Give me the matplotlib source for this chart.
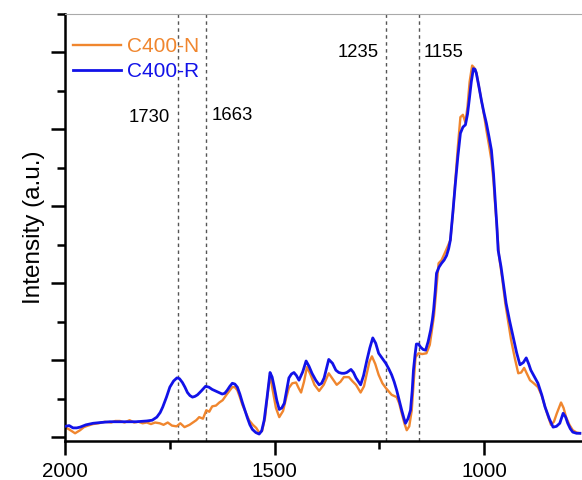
import numpy as np
import matplotlib.pyplot as plt

plt.rcParams["font.family"] = ["Liberation Sans", "DejaVu Sans"]

# C400-N (orange) spectrum
wnN = [2000, 1990, 1976, 1964, 1955, 1945, 1933, 1920, 1905, 1890, 1880, 1869, 1858, 1846,
       1835, 1825, 1815, 1805, 1795, 1785, 1774, 1765, 1755, 1745, 1734, 1725, 1715, 1703,
       1695, 1687, 1680, 1671, 1663, 1656, 1649, 1640, 1632, 1624, 1615, 1608, 1601, 1595,
       1589, 1583, 1577, 1569, 1561, 1552, 1544, 1537, 1530, 1523, 1517, 1511, 1505, 1497,
       1489, 1480, 1472, 1466, 1458, 1449, 1443, 1437, 1430, 1423, 1415, 1405, 1394, 1383,
       1371, 1362, 1352, 1343, 1335, 1323, 1315, 1306, 1295, 1287, 1280, 1274, 1268, 1260,
       1252, 1243, 1235, 1221, 1209, 1203, 1197, 1190, 1185, 1179, 1173, 1168, 1164, 1157,
       1148, 1138, 1130, 1120, 1109, 1102, 1092, 1081, 1075, 1069, 1063, 1057, 1051, 1045,
       1040, 1035, 1029, 1024, 1019, 1013, 1007, 1001, 995, 989, 983, 978, 974, 969, 965,
       957, 950, 943, 936, 927, 919, 912, 905, 898, 891, 882, 872, 863, 855, 848, 841, 834,
       827, 822, 817, 811, 805, 797, 789, 780, 772]
intN = [0.13, 0.10, 0.05, 0.09, 0.13, 0.15, 0.17, 0.18, 0.20, 0.19, 0.21, 0.21, 0.19, 0.22,
        0.19, 0.20, 0.18, 0.19, 0.17, 0.19, 0.18, 0.16, 0.19, 0.15, 0.14, 0.18, 0.13, 0.16,
        0.19, 0.22, 0.26, 0.24, 0.35, 0.33, 0.40, 0.41, 0.45, 0.48, 0.55, 0.60, 0.65, 0.65,
        0.61, 0.52, 0.42, 0.32, 0.22, 0.16, 0.12, 0.06, 0.08, 0.25, 0.55, 0.81, 0.62, 0.38,
        0.26, 0.34, 0.52, 0.64, 0.70, 0.71, 0.64, 0.58, 0.72, 0.91, 0.82, 0.68, 0.60, 0.68,
        0.83, 0.76, 0.68, 0.72, 0.78, 0.78, 0.73, 0.68, 0.58, 0.66, 0.83, 0.98, 1.05, 0.95,
        0.81, 0.70, 0.64, 0.55, 0.52, 0.44, 0.31, 0.17, 0.09, 0.14, 0.35, 0.75, 1.04, 1.09,
        1.08, 1.09, 1.20, 1.58, 2.26, 2.30, 2.42, 2.56, 2.90, 3.34, 3.78, 4.16, 4.19, 4.09,
        4.30, 4.62, 4.83, 4.80, 4.74, 4.56, 4.38, 4.20, 3.99, 3.80, 3.60, 3.32, 3.01, 2.66,
        2.36, 2.05, 1.74, 1.50, 1.26, 1.02, 0.83, 0.84, 0.90, 0.82, 0.74, 0.70, 0.65, 0.54,
        0.39, 0.27, 0.16, 0.20, 0.31, 0.38, 0.45, 0.38, 0.26, 0.16, 0.09, 0.06, 0.05]

# C400-R (blue) spectrum
wnR = [2000, 1990, 1981, 1972, 1964, 1950, 1933, 1915, 1893, 1870, 1853, 1830, 1805, 1792,
       1781, 1773, 1767, 1758, 1750, 1741, 1733, 1727, 1720, 1714, 1708, 1702, 1696, 1690,
       1684, 1675, 1665, 1657, 1649, 1637, 1625, 1619, 1613, 1607, 1601, 1595, 1589, 1583,
       1577, 1571, 1565, 1559, 1553, 1545, 1537, 1531, 1525, 1518, 1511, 1506, 1501, 1495,
       1489, 1483, 1477, 1471, 1466, 1460, 1454, 1448, 1442, 1433, 1425, 1418, 1411, 1402,
       1394, 1388, 1382, 1376, 1371, 1362, 1354, 1347, 1340, 1334, 1328, 1318, 1312, 1306,
       1295, 1288, 1280, 1273, 1266, 1259, 1252, 1243, 1235, 1228, 1221, 1215, 1209, 1203,
       1197, 1192, 1188, 1182, 1176, 1172, 1169, 1165, 1162, 1157, 1152, 1146, 1140, 1134,
       1128, 1124, 1121, 1117, 1114, 1108, 1102, 1096, 1090, 1085, 1081, 1075, 1069, 1063,
       1057, 1051, 1045, 1040, 1036, 1031, 1026, 1022, 1019, 1013, 1007, 1001, 995, 989,
       983, 978, 974, 970, 967, 963, 960, 954, 948, 940, 931, 923, 915, 907, 900, 894, 889,
       880, 872, 863, 855, 845, 836, 828, 820, 815, 812, 806, 801, 795, 789, 780, 772]
intR = [0.14, 0.15, 0.12, 0.12, 0.13, 0.16, 0.18, 0.19, 0.20, 0.20, 0.20, 0.20, 0.21, 0.22,
        0.26, 0.32, 0.39, 0.52, 0.65, 0.73, 0.77, 0.76, 0.71, 0.65, 0.58, 0.54, 0.52, 0.53,
        0.55, 0.60, 0.66, 0.65, 0.62, 0.59, 0.56, 0.57, 0.61, 0.66, 0.70, 0.69, 0.65, 0.56,
        0.45, 0.35, 0.25, 0.16, 0.10, 0.06, 0.04, 0.08, 0.22, 0.52, 0.84, 0.78, 0.65, 0.48,
        0.36, 0.38, 0.44, 0.62, 0.77, 0.82, 0.84, 0.80, 0.74, 0.85, 0.99, 0.92, 0.83, 0.74,
        0.68, 0.70, 0.77, 0.90, 1.01, 0.96, 0.87, 0.84, 0.83, 0.83, 0.84, 0.88, 0.84, 0.77,
        0.68, 0.80, 1.00, 1.16, 1.29, 1.22, 1.09, 1.02, 0.96, 0.89, 0.81, 0.72, 0.61, 0.48,
        0.35, 0.25, 0.18, 0.24, 0.35, 0.60, 0.87, 1.08, 1.21, 1.21, 1.17, 1.14, 1.13, 1.24,
        1.39, 1.52, 1.65, 1.90, 2.13, 2.21, 2.26, 2.30, 2.36, 2.45, 2.56, 2.92, 3.30, 3.65,
        3.95, 4.03, 4.06, 4.20, 4.38, 4.62, 4.79, 4.78, 4.73, 4.56, 4.38, 4.22, 4.08, 3.91,
        3.73, 3.42, 3.08, 2.74, 2.43, 2.30, 2.21, 1.97, 1.74, 1.52, 1.30, 1.10, 0.94, 0.97,
        1.03, 0.95, 0.87, 0.78, 0.70, 0.55, 0.39, 0.24, 0.13, 0.14, 0.18, 0.26, 0.31, 0.26,
        0.18, 0.11, 0.065, 0.05, 0.05]

peaks = [1730, 1663, 1235, 1155]
peakLabels = ["1730", "1663", "1235", "1155"]

fig = plt.figure(figsize=(5.82, 4.80), dpi=100)
ax = fig.add_axes([0.1117, 0.0813, 0.8883, 0.8895])

for w in peaks:
    ax.axvline(w, color="#555555", linestyle=(0, (2.5, 2.5)), linewidth=1.0, zorder=1)

ax.plot(wnN, intN, color="#F0862E", linewidth=1.7, label="C400-N", zorder=2)
ax.plot(wnR, intR, color="#1212E8", linewidth=2.0, label="C400-R", zorder=3)

ax.text(1751, 4.16, peakLabels[0], ha="right", va="center", fontsize=13.3)
ax.text(1651, 4.18, peakLabels[1], ha="left", va="center", fontsize=13.3)
ax.text(1252, 5.0, peakLabels[2], ha="right", va="center", fontsize=13.3)
ax.text(1145, 5.0, peakLabels[3], ha="left", va="center", fontsize=13.3)

ax.set_xlim(2000, 767)
ax.set_ylim(-0.05, 5.49)
ax.set_xticks([2000, 1500, 1000])
ax.set_xticks([1750, 1250], minor=True)
ax.set_yticks(np.arange(0, 5.1, 1))
ax.set_yticks(np.arange(0.5, 5.6, 1), minor=True)
ax.set_yticklabels([])
ax.tick_params(axis="both", which="major", direction="out", length=10, width=1.8, labelsize=14.8)
ax.tick_params(axis="both", which="minor", direction="out", length=6, width=1.8)
ax.tick_params(axis="x", pad=5)

ax.spines["left"].set_linewidth(1.8)
ax.spines["bottom"].set_linewidth(1.8)
ax.spines["top"].set_linewidth(0.8)
ax.spines["top"].set_color("#aaaaaa")
ax.spines["right"].set_visible(False)

ax.set_ylabel("Intensity (a.u.)", fontsize=17.5, labelpad=1)

leg = ax.legend(loc="upper left", bbox_to_anchor=(-0.013, 0.98), frameon=False, fontsize=15,
                handlelength=2.3, handletextpad=0.3, labelspacing=0.3, borderaxespad=0.3)
for txt, line in zip(leg.get_texts(), leg.get_lines()):
    txt.set_color(line.get_color())

fig.savefig("out.png", dpi=100)
